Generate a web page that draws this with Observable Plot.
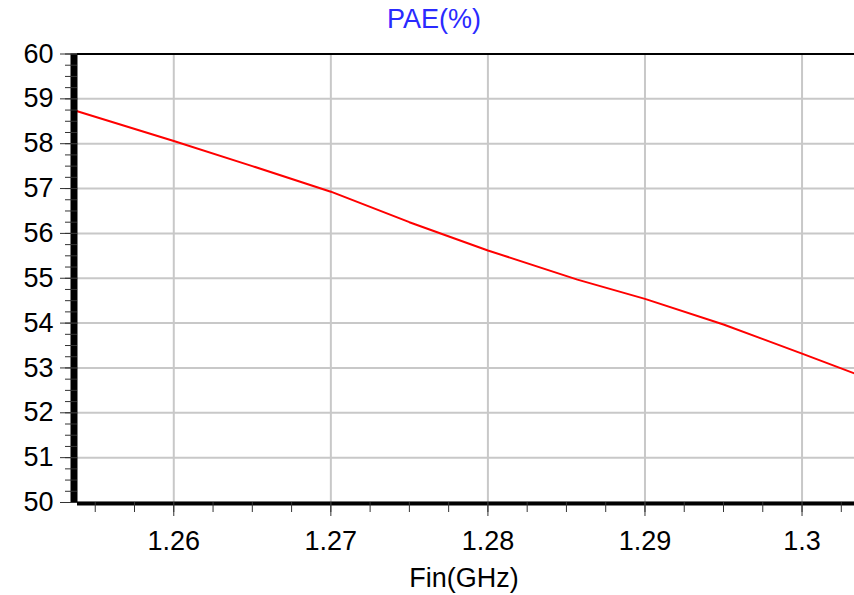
<!DOCTYPE html>
<html><head><meta charset="utf-8">
<script src="https://cdn.jsdelivr.net/npm/d3@7"></script>
<script src="https://cdn.jsdelivr.net/npm/@observablehq/plot@0.6"></script>
<style>html,body{margin:0;padding:0;background:#fff;} svg{display:block}</style>
</head><body><div id="chart"></div>
<script>
const freq = [1.2537, 1.26, 1.265, 1.27, 1.275, 1.28, 1.2857, 1.29, 1.295, 1.3, 1.3034];
const pae  = [58.74, 58.06, 57.50, 56.93, 56.25, 55.62, 54.97, 54.54, 53.97, 53.32, 52.87];
const xTicks = [1.26, 1.27, 1.28, 1.29, 1.3];
const xTickLabels = ["1.26", "1.27", "1.28", "1.29", "1.3"];
const yTicks = [50, 51, 52, 53, 54, 55, 56, 57, 58, 59, 60];
const yTickLabels = ["50", "51", "52", "53", "54", "55", "56", "57", "58", "59", "60"];
const titleText = "PAE(%)";
const xLabel = "Fin(GHz)";

const xDomain = [1.25387, 1.30334];
const xMinor = d3.range(1.2525, 1.305, 0.0025).filter(v => v >= xDomain[0] && v <= xDomain[1]);
const yMinor = d3.range(50, 60.001, 0.25);
const data = freq.map((f, i) => ({f, v: pae[i]}));

const font = "Liberation Sans, Arial, sans-serif";
const chart = Plot.plot({
  width: 854, height: 595,
  marginLeft: 77, marginRight: 0, marginTop: 53.5, marginBottom: 93,
  style: {fontFamily: font, background: "#fff", overflow: "visible", color: "#000"},
  x: {domain: xDomain, label: null},
  y: {domain: [50, 60], label: null},
  marks: [
    Plot.gridX(xTicks, {stroke: "#c8c8c8", strokeOpacity: 1, strokeWidth: 2}),
    Plot.gridY(yTicks, {stroke: "#c8c8c8", strokeOpacity: 1, strokeWidth: 2}),
    Plot.line(data, {x: "f", y: "v", stroke: "#ff0000", strokeWidth: 2}),
    Plot.ruleY([60], {stroke: "#000", strokeWidth: 2}),
    Plot.ruleX([xDomain[0]], {stroke: "#000", strokeWidth: 7, dx: -3.5}),
    Plot.ruleY([50], {stroke: "#000", strokeWidth: 4, dy: 1}),
    Plot.axisY(yMinor, {tickSize: 12, text: null, stroke: "#333", label: null}),
    Plot.axisY(yTicks, {tickSize: 17, tickPadding: 7, stroke: "#333",
      tickFormat: d => yTickLabels[yTicks.indexOf(d)], fontSize: 27, label: null}),
    Plot.axisX(xMinor, {tickSize: 10, text: null, stroke: "#333", label: null}),
    Plot.axisX(xTicks, {tickSize: 14, tickPadding: 14, stroke: "#333",
      tickFormat: d => xTickLabels[xTicks.indexOf(d)], fontSize: 27, label: null}),
    Plot.text([titleText], {frameAnchor: "top", dx: -32, dy: -35, fill: "#2a2aff", fontSize: 27, lineAnchor: "middle"}),
    Plot.text([xLabel], {frameAnchor: "bottom", dx: -2, dy: 76, fill: "#000", fontSize: 27, lineAnchor: "middle"})
  ]
});
document.getElementById("chart").append(chart);
</script>
</body></html>
